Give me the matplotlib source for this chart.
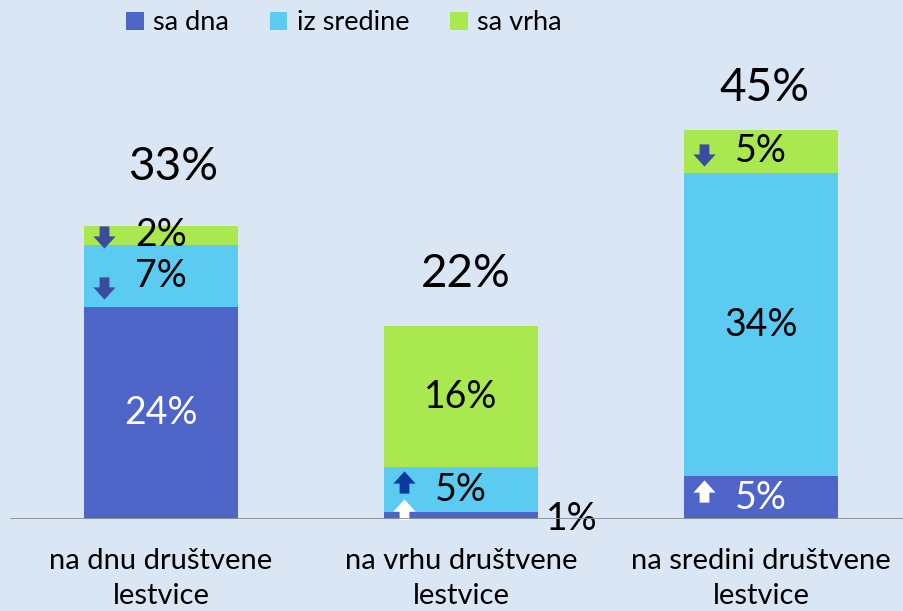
import matplotlib
matplotlib.use("Agg")
import matplotlib.pyplot as plt
from matplotlib.path import Path
import numpy as np

plt.rcParams['font.family'] = ['Lato', 'DejaVu Sans']

# ---- data ----
categories = ["na dnu društvene\nlestvice", "na vrhu društvene\nlestvice", "na sredini društvene\nlestvice"]
series_names = ["sa dna", "iz sredine", "sa vrha"]
sa_dna = [24.2, 0.8, 4.9]
iz_sredine = [7.1, 5.1, 34.6]
sa_vrha = [2.2, 16.2, 5.0]
labels_dna = ["24%", "1%", "5%"]
labels_sredine = ["7%", "5%", "34%"]
labels_vrha = ["2%", "16%", "5%"]
total_labels = ["33%", "22%", "45%"]

# ---- style ----
BG = "#DAE6F4"
colors = ["#4E64C7", "#5BCBF2", "#A9E84F"]
W, H = 904, 611
fig = plt.figure(figsize=(W / 100, H / 100), dpi=100, facecolor=BG)
ax = fig.add_axes([0, 92 / H, 1, (519 - 40) / H])
ax.set_facecolor(BG)

x = np.arange(len(categories))
width = 154 / 300
ax.set_xlim(-161 / 300, (W - 161) / 300)
ax.set_ylim(0, 479 / 8.75)

series = [sa_dna, iz_sredine, sa_vrha]
bottoms = np.zeros(len(categories))
bars = []
for vals, col, name in zip(series, colors, series_names):
    ax.bar(x, vals, width, bottom=bottoms, color=col, label=name, zorder=2, linewidth=0)
    bars.append((np.array(vals), bottoms.copy()))
    bottoms = bottoms + np.array(vals)
totals = bottoms

fs_seg = 27
for i in range(len(categories)):
    v, b = bars[0][0][i], bars[0][1][i]
    if v >= 2:
        ax.text(x[i], b + v / 2, labels_dna[i], ha='center', va='center', fontsize=fs_seg,
                color='white', zorder=4)
    else:
        ax.text(x[i] + 0.37, b + v / 2 - 0.4, labels_dna[i], ha='center', va='center',
                fontsize=fs_seg, color='black', zorder=4)
    v, b = bars[1][0][i], bars[1][1][i]
    ax.text(x[i], b + v / 2, labels_sredine[i], ha='center', va='center', fontsize=fs_seg,
            color='black', zorder=4)
    v, b = bars[2][0][i], bars[2][1][i]
    ax.text(x[i], b + v / 2, labels_vrha[i], ha='center', va='center', fontsize=fs_seg,
            color='black', zorder=4)

# totals above bars
total_offsets = [6.7, 5.9, 4.8]
total_dx = [0.04, 0.017, 0.013]
for i in range(len(categories)):
    ax.text(x[i] + total_dx[i], totals[i] + total_offsets[i], total_labels[i], ha='center',
            va='center', fontsize=33, color='black', zorder=4)

# block arrow markers
down_arrow = Path([(-0.22, 0.5), (0.22, 0.5), (0.22, 0.05), (0.5, 0.05), (0.0, -0.5),
                   (-0.5, 0.05), (-0.22, 0.05), (-0.22, 0.5)],
                  [Path.MOVETO] + [Path.LINETO] * 6 + [Path.CLOSEPOLY])
up_arrow = Path([(-0.22, -0.5), (0.22, -0.5), (0.22, -0.05), (0.5, -0.05), (0.0, 0.5),
                 (-0.5, -0.05), (-0.22, -0.05), (-0.22, -0.5)],
                [Path.MOVETO] + [Path.LINETO] * 6 + [Path.CLOSEPOLY])
# (bar index, y, direction, colour)
arrows = [
    (0, 32.2, 'down', '#3B4B9E'),
    (0, 26.4, 'down', '#3B4B9E'),
    (1, 4.2, 'up', '#0A3A9C'),
    (1, 1.0, 'up', 'white'),
    (2, 41.6, 'down', '#3B4B9E'),
    (2, 3.2, 'up', 'white'),
]
for bi, yy, d, c in arrows:
    ax.plot([x[bi] - 0.19], [yy], marker=down_arrow if d == 'down' else up_arrow,
            markersize=16, color=c, linestyle='none', zorder=3, markeredgewidth=0)

# baseline
ax.axhline(0, xmin=11 / W, xmax=1, color='#8E8E8E', linewidth=2, zorder=5)

for s in ax.spines.values():
    s.set_visible(False)
ax.set_yticks([])
ax.set_xticks(x)
ax.set_xticklabels(categories, fontsize=21, linespacing=1.4)
ax.tick_params(axis='x', length=0, pad=21)

fig.legend(loc='center', bbox_to_anchor=(344 / W, 1 - 23 / H), ncol=3, frameon=False,
           fontsize=19.5, handlelength=0.65, handleheight=0.65, handletextpad=0.35,
           columnspacing=1.5, borderaxespad=0)

fig.savefig("out.png", dpi=100, facecolor=BG)
